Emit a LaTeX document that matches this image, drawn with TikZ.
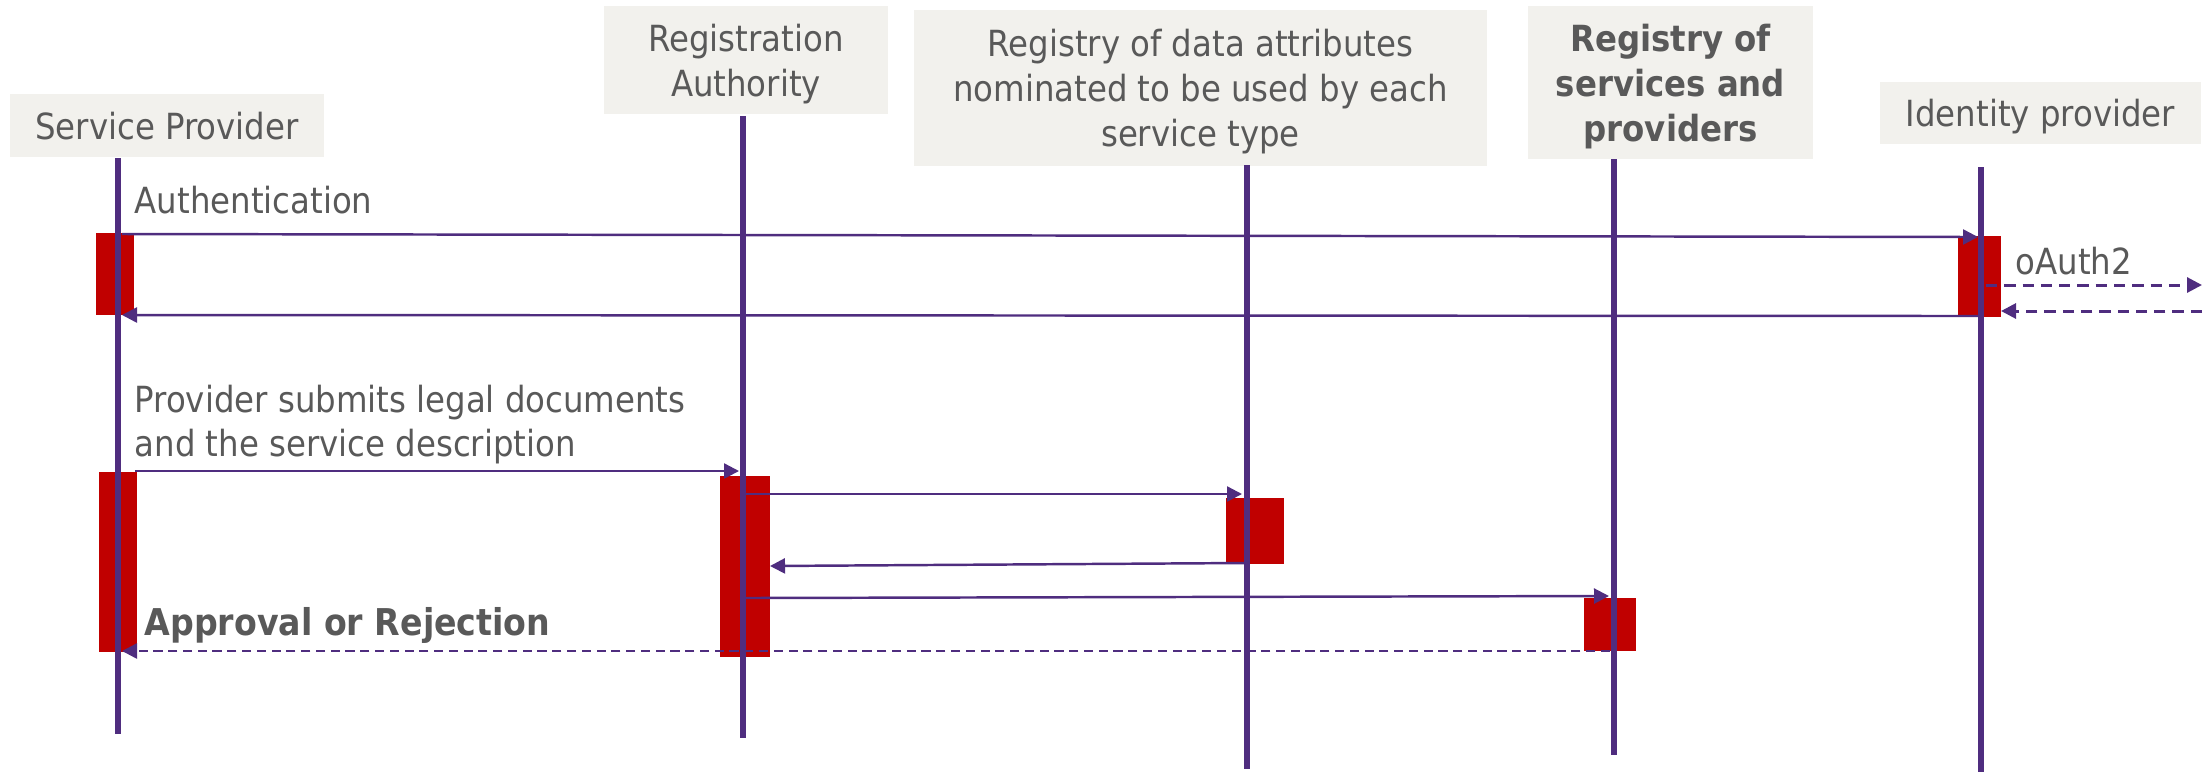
\documentclass[tikz,border=0pt]{standalone}
\usepackage{fontspec}
\setmainfont{DejaVu Sans Condensed}
\usetikzlibrary{arrows.meta}
\definecolor{lifec}{HTML}{4F2D7F}
\definecolor{actc}{HTML}{C00000}
\definecolor{headc}{HTML}{F2F1ED}
\definecolor{txtc}{HTML}{595959}
\tikzset{
  head/.style={fill=headc, inner sep=0pt, align=center, text=txtc, text depth=0pt,
    font=\fontsize{10.24pt}{12.8pt}\selectfont},
  lifeline/.style={draw=lifec, line width=1.85pt},
  act/.style={fill=actc, inner sep=0pt, draw=none},
  msg/.style={draw=lifec, line width=0.7pt, -{Triangle[length=0.15cm,width=0.15cm]}},
  ret/.style={msg, dash pattern=on 2.6pt off 1.6pt},
  ext/.style={msg, line width=0.85pt, dash pattern=on 3.2pt off 2pt},
  lbl/.style={text=txtc, inner sep=0pt, font=\fontsize{10.24pt}{12.5pt}\selectfont}
}
\begin{document}
\begin{tikzpicture}[x=0.01cm, y=-0.01cm]
\useasboundingbox (0,0) rectangle (2212,772);
% headers
\node[head, minimum width=3.13cm, minimum height=0.63cm] (hSP) at (167,125.5) {Service Provider};
\node[head, minimum width=2.84cm, minimum height=1.08cm] (hRA) at (746,60) {Registration\\Authority};
\node[head, minimum width=5.73cm, minimum height=1.55cm] (hRD) at (1200.5,88) {Registry of data attributes\\nominated to be used by each\\service type};
\node[head, minimum width=2.85cm, minimum height=1.53cm, font=\fontsize{10.24pt}{12.8pt}\selectfont\bfseries] (hRS) at (1670.5,82.5) {Registry of\\services and\\providers};
\node[head, minimum width=3.21cm, minimum height=0.62cm] (hIdP) at (2040.5,113) {Identity provider};
% activations
\node[act, minimum width=0.38cm, minimum height=0.82cm] (aSP1) at (115,274) {};
\node[act, minimum width=0.43cm, minimum height=0.81cm] (aIdP) at (1979.5,276.5) {};
\node[act, minimum width=0.38cm, minimum height=1.80cm] (aSP2) at (118,562) {};
\node[act, minimum width=0.50cm, minimum height=1.81cm] (aRA) at (745,566.5) {};
\node[act, minimum width=0.58cm, minimum height=0.66cm] (aRD) at (1255,531) {};
\node[act, minimum width=0.52cm, minimum height=0.53cm] (aRS) at (1610,624.5) {};
% lifelines
\coordinate (spT) at (118,158);  \coordinate (spB) at (118,734);
\coordinate (raT) at (743,116);  \coordinate (raB) at (743,738);
\coordinate (rdT) at (1247,165); \coordinate (rdB) at (1247,769);
\coordinate (rsT) at (1614,159); \coordinate (rsB) at (1614,755);
\coordinate (idT) at (1981,167); \coordinate (idB) at (1981,772);
\draw[lifeline] (spT) -- (spB);
\draw[lifeline] (raT) -- (raB);
\draw[lifeline] (rdT) -- (rdB);
\draw[lifeline] (rsT) -- (rsB);
\draw[lifeline] (idT) -- (idB);
% messages
\coordinate (m1a) at (122,234);  \coordinate (m1b) at (1978,237);
\coordinate (m2a) at (1978,316); \coordinate (m2b) at (122,315);
\coordinate (m3a) at (1986,285); \coordinate (m3b) at (2202,285);
\coordinate (m4a) at (2202,311); \coordinate (m4b) at (2001,311);
\coordinate (m5a) at (135,471);  \coordinate (m5b) at (739,471);
\coordinate (m6a) at (746,494);  \coordinate (m6b) at (1242,494);
\coordinate (m7a) at (1245,563); \coordinate (m7b) at (770,566);
\coordinate (m8a) at (746,598);  \coordinate (m8b) at (1609,596);
\coordinate (m9a) at (1610,651); \coordinate (m9b) at (122,651);
\draw[msg] (m1a) -- (m1b);
\draw[msg] (m2a) -- (m2b);
\draw[ext] (m3a) -- (m3b);
\draw[ext] (m4a) -- (m4b);
\draw[msg] (m5a) -- (m5b);
\draw[msg] (m6a) -- (m6b);
\draw[msg] (m7a) -- (m7b);
\draw[msg] (m8a) -- (m8b);
\draw[ret] (m9a) -- (m9b);
% labels
\node[lbl, anchor=base west] (lAuth) at (134,213) {Authentication};
\node[lbl, anchor=base west] (lOauth) at (2015,274) {oAuth2};
\node[lbl, anchor=base west] (lSub1) at (134,412) {Provider submits legal documents};
\node[lbl, anchor=base west] (lSub2) at (134,456) {and the service description};
\node[lbl, anchor=base west, font=\fontsize{10.5pt}{12.5pt}\selectfont\bfseries] (lApp) at (144,635) {Approval or Rejection};
\end{tikzpicture}
\end{document}
